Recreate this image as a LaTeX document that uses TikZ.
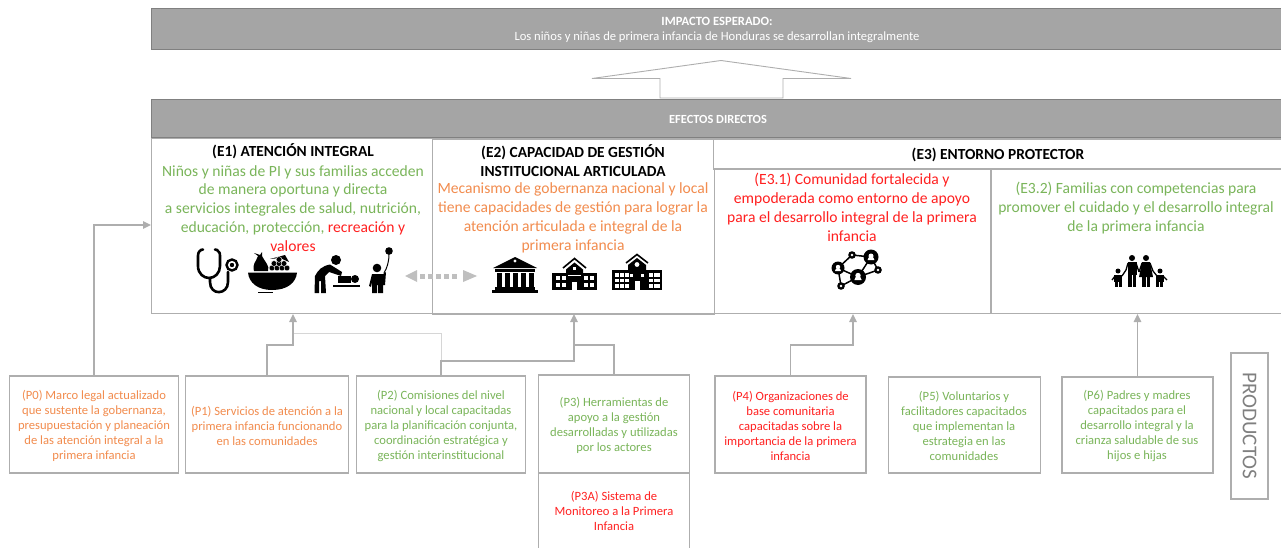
\documentclass[tikz,border=0pt]{standalone}
\usepackage{fontspec}
\setmainfont{Carlito}
\usetikzlibrary{arrows.meta}
\definecolor{bargray}{HTML}{A5A5A5}
\definecolor{linegray}{HTML}{AEAEAE}
\definecolor{ogreen}{HTML}{7AB55A}
\definecolor{oorange}{HTML}{F28C4E}
\definecolor{ored}{HTML}{FF2020}
\tikzset{
 x=1pt,y=-1pt,
 every node/.style={outer sep=0pt},
 barbox/.style={draw=black!50,fill=bargray,line width=1pt,anchor=north west,inner sep=0pt,text=white,align=center},
 effbox/.style={draw=linegray,fill=white,line width=1.2pt,anchor=north west,inner sep=0pt},
 prodbox/.style={draw=linegray,fill=white,line width=1.4pt,anchor=north west,inner sep=0pt},
 etxt/.style={font=\fontsize{15.6}{18.9}\selectfont,align=center,anchor=center,inner sep=0pt},
 ehead/.style={font=\fontsize{15.4}{18.9}\selectfont\bfseries,align=center,anchor=center,inner sep=0pt},
 ptxt/.style={font=\fontsize{12.6}{15}\selectfont,align=center,anchor=center,inner sep=0pt},
 conn/.style={draw=linegray,line width=1.3pt},
 connar/.style={conn,-{Triangle[length=8pt,width=7.5pt]}},
 icl/.style={draw=black,line width=2.6pt,fill=none,line cap=round,line join=round},
}
\begin{document}
\begin{tikzpicture}
\useasboundingbox (0,0) rectangle (1281,548);
% top bars
\node[barbox,minimum width=1132pt,minimum height=41pt] (imp) at (151,9) {};
\node[font=\fontsize{12.6}{15}\selectfont,text=white,align=center,inner sep=0pt] (impt) at (717,30) {\textbf{IMPACTO ESPERADO:}\\Los niños y niñas de primera infancia de Honduras se desarrollan integralmente};
\node[barbox,minimum width=1132pt,minimum height=38pt] (efe) at (151,100) {};
\node[font=\fontsize{12.4}{13}\selectfont\bfseries,text=white,inner sep=0pt] (efet) at (718,119) {EFECTOS DIRECTOS};
% big arrow
\draw[draw=linegray,fill=white,line width=.9pt,line join=miter] (660,98) -- (660,78.5) -- (592,78.5) -- (721,60.5) -- (851,78.5) -- (783,78.5) -- (783,98) -- cycle;
% effect boxes
\node[effbox,minimum width=281pt,minimum height=175pt] (e1) at (151.5,138.5) {};
\node[effbox,minimum width=282pt,minimum height=175pt] (e2) at (432.5,139) {};
\node[effbox,minimum width=568pt,minimum height=30pt] (e3) at (713.5,139) {};
\node[effbox,minimum width=277pt,minimum height=144pt] (e31) at (714.5,169.5) {};
\node[effbox,minimum width=291pt,minimum height=144pt] (e32) at (991,169.5) {};
% texts
\node[ehead] (e1h) at (293,151) {(E1) ATENCIÓN INTEGRAL};
\node[etxt,text=ogreen] (e1t) at (293,208.5) {Niños y niñas de PI y sus familias acceden\\de manera oportuna y directa\\a servicios integrales de salud, nutrición,\\educación, protección, \textcolor{ored}{recreación y}\\\textcolor{ored}{valores}};
\node[ehead] (e2h) at (573,161) {(E2) CAPACIDAD DE GESTIÓN\\INSTITUCIONAL ARTICULADA};
\node[etxt,text=oorange] (e2t) at (573,217.5) {Mecanismo de gobernanza nacional y local\\tiene capacidades de gestión para lograr la\\atención articulada e integral de la\\primera infancia};
\node[ehead] (e3h) at (998,155) {(E3) ENTORNO PROTECTOR};
\node[etxt,text=ored] (e31t) at (852,207.5) {(E3.1) Comunidad fortalecida y\\empoderada como entorno de apoyo\\para el desarrollo integral de la primera\\infancia};
\node[etxt,text=ogreen] (e32t) at (1136,208) {(E3.2) Familias con competencias para\\promover el cuidado y el desarrollo integral\\de la primera infancia};
% product boxes
\node[prodbox,minimum width=169pt,minimum height=97pt] (p0) at (9.5,376) {};
\node[prodbox,minimum width=163pt,minimum height=97pt] (p1) at (185.5,376) {};
\node[prodbox,minimum width=169pt,minimum height=97pt] (p2) at (356.5,376) {};
\node[prodbox,minimum width=151pt,minimum height=98pt] (p3) at (538.5,375) {};
\draw[draw=linegray,line width=1.3pt] (538.5,473) -- (538.5,548) (689.5,473) -- (689.5,548);
\node[prodbox,minimum width=151pt,minimum height=97pt] (p4) at (715,376) {};
\node[prodbox,minimum width=152pt,minimum height=96pt] (p5) at (888.5,377) {};
\node[prodbox,minimum width=151pt,minimum height=96pt] (p6) at (1062,377) {};
\node[prodbox,minimum width=37pt,minimum height=146pt] (prod) at (1231,353) {};
\node[ptxt,text=oorange] at (94,425.5) {(P0) Marco legal actualizado\\que sustente la gobernanza,\\presupuestación y planeación\\de las atención integral a la\\primera infancia};
\node[ptxt,text=oorange] at (267,425.5) {(P1) Servicios de atención a la\\primera infancia funcionando\\en las comunidades};
\node[ptxt,text=ogreen] at (441,425.5) {(P2) Comisiones del nivel\\nacional y local capacitadas\\para la planificación conjunta,\\coordinación estratégica y\\gestión interinstitucional};
\node[ptxt,text=ogreen] at (614,425) {(P3) Herramientas de\\apoyo a la gestión\\desarrolladas y utilizadas\\por los actores};
\node[ptxt,text=ored] at (614,511) {(P3A) Sistema de\\Monitoreo a la Primera\\Infancia};
\node[ptxt,text=ored] at (790.5,426) {(P4) Organizaciones de\\base comunitaria\\capacitadas sobre la\\importancia de la primera\\infancia};
\node[ptxt,text=ogreen] at (964,426) {(P5) Voluntarios y\\facilitadores capacitados\\que implementan la\\estrategia en las\\comunidades};
\node[ptxt,text=ogreen] at (1137,426) {(P6) Padres y madres\\capacitados para el\\desarrollo integral y la\\crianza saludable de sus\\hijos e hijas};
\node[rotate=-90,font=\fontsize{21}{22}\selectfont,text=gray,inner sep=0pt] at (1249.5,426) {PRODUCTOS};
% connectors
\coordinate (e1a) at (293,314);
\coordinate (e2a) at (574,314);
\coordinate (e0a) at (151,225);
\coordinate (e31a) at (853,314);
\draw[connar] (p0.north) |- (e0a);
\draw[draw=linegray!50,line width=.8pt] (293,333.5) -| (p2.north);
\draw[connar] (p1.north) |- (293,345) -- (e1a);
\draw[connar] (p2.north) |- (574,361) -- (e2a);
\draw[conn] (574,345) -| (p3.north);
\draw[connar] (p4.north) |- (853,345) -- (e31a);
\draw[connar] (p6.north) -- (p6.north |- e31a);
% double dotted arrow
\coordinate (dl) at (405,276);
\coordinate (dr) at (477,276);
\fill[black!25] (dl) -- (417,270) -- (417,282) -- cycle;
\fill[black!25] (dr) -- (463,270) -- (463,282) -- cycle;
\foreach \x in {420,428,436,444,452} \fill[black!25] (\x,273.5) rectangle ++(5,5);
% icon: stethoscope
\draw[icl] (203,249.5) -- (201,250) .. controls (198,252) and (198,254) .. (198,258) -- (198,266) .. controls (198,274) and (204,278) .. (209,278) .. controls (215,278) and (220,273) .. (220,266) -- (220,258) .. controls (220,254) and (220,251) .. (217,250) -- (215,249.5);
\draw[icl] (210,278) -- (210,282) .. controls (210,296) and (228,295) .. (228,282) -- (228,272);
\draw[draw=black,line width=2.4pt,fill=white] (232,265) circle (5.5);
\fill (232,265) circle (2.2);
% icon: fruit bowl
\fill (248,272.5) -- (297,272.5) .. controls (296,283) and (287,290) .. (272,290) .. controls (258,290) and (249,283) .. (248,272.5) -- cycle;
\fill (258,291.5) rectangle (273,293);
\fill (254,271) .. controls (252,264) and (256,262) .. (258,256) -- (254,253) -- (260,255) -- (262,252) -- (262,256) .. controls (265,262) and (270,266) .. (268,271) -- cycle;
\fill (270,259) -- (285,255) -- (289,262) -- (280,258) -- cycle;
\foreach \p in {(272,268),(277,268),(282,268),(287,268),(274,263.5),(279,263.5),(284,263.5),(279,259.5)} {\filldraw[fill=black,draw=white,line width=.4pt] \p circle (2.9);}
% icon: diaper change
\fill (336,260) circle (5);
\fill (330,264.5) .. controls (322,266) and (318,270) .. (315,276) -- (314.5,293) -- (319,293) -- (319,281) -- (321,281) -- (321,293) -- (326,293) -- (325,276) -- (329,272) -- (341,276) -- (342,272) -- cycle;
\fill (355,279) circle (4);
\fill (338,276) -- (351,276) -- (351,283) -- (338,283) -- cycle;
\fill (333,285) rectangle (360,286.5);
% icon: child with balloon
\fill (389,251) circle (3.8);
\draw[line width=1pt] (389,254) .. controls (389,262) and (387,268) .. (384,273);
\fill (377,268) circle (4.3);
\fill (369,286) -- (372,274) -- (383,274) -- (386,272) -- (385,285) -- (383,285) -- (383,293) -- (378,293) -- (378,285) -- (377,285) -- (377,293) -- (372,293) -- (372,282) -- (371,287) -- cycle;
% icon: bank
\fill (515,257) -- (493,268) -- (537,268) -- cycle;
\fill[white] (515,261) circle (1.6);
\fill (495,269) rectangle (535,271.5);
\foreach \x in {497,505,513,521,529} \fill (\x,272.5) rectangle ++(4.5,14);
\fill (495,287) rectangle (535,289.5);
\fill (492,290) rectangle (538,293);
% icon: school
\draw[line width=1.6pt,line join=miter] (563,268) -- (574.5,258.5) -- (586,268);
\fill (574.5,262.5) -- (566,269.5) -- (566,273) -- (583,273) -- (583,269.5) -- cycle;
\fill (552,272.5) rectangle (597,290);
\foreach \x in {555.5,561.5,583.5,589.5} \foreach \y in {275.5,282.5} \fill[white] (\x,\y) rectangle ++(4.5,4.5);
\fill[white] (572,282) rectangle (577,290);
\fill[white] (573,267) rectangle (576,270);
\fill[white] (568,275) rectangle (581,276);
% icon: hospital
\draw[line width=1.6pt,line join=miter] (626,263) -- (637,254.5) -- (648,263);
\fill (637,258) -- (628,265) -- (628,271) -- (646,271) -- (646,265) -- cycle;
\fill (612,270) rectangle (662,290);
\foreach \x in {615,620,625,649,654} \foreach \y in {273,278.5,284} \fill[white] (\x,\y) rectangle ++(3.5,3.5);
\foreach \x in {658.2} \foreach \y in {273,278.5,284} \fill[white] (\x,\y) rectangle ++(2,3.5);
\fill[white] (634.5,281) rectangle (640,290);
\fill[white] (637,264.5) circle (2.4);
\foreach \x in {630,641} \fill[white] (\x,273.5) rectangle ++(3,3);
% icon: network
\draw[line width=1.5pt] (838,268) -- (852,255) -- (871,257) -- (878,270) -- (858,277) -- (871,257) (858,277) -- (838,268) (838,268) -- (841,286) -- (858,277);
\foreach \p/\r in {(838,268)/6.5,(871,257)/7.5,(858,277)/8,(852,255)/3.8,(878,270)/3.8,(841,286)/3.8}{\fill \p circle (\r);}
\foreach \p/\r in {(838,267)/2.2,(871,256)/2.5,(858,275.5)/2.7,(852,255)/1.4,(878,270)/1.4,(841,286)/1.4}{\fill[white] \p circle (\r);}
\foreach \p/\r in {(838,271)/3,(871,260)/3.4,(858,280)/3.6}{\fill[white] \p ++(-\r,0) arc (180:360:\r) -- cycle;}
% icon: family
\fill (1118,271) circle (2.5);
\fill (1160,271) circle (2.5);
\fill (1132,258) circle (3);
\fill (1146,258) circle (3);
\fill (1114,275) rectangle (1122,281.5);\fill (1115,281) rectangle (1118,287);\fill (1118.8,281) rectangle (1121.8,287);
\fill (1156,275) rectangle (1164,281.5);\fill (1156.3,281) rectangle (1159.3,287);\fill (1160.2,281) rectangle (1163.2,287);
\fill (1127.5,262) rectangle (1136.5,275);\fill (1128,275) rectangle (1131.5,286.5);\fill (1132.5,275) rectangle (1136,286.5);
\fill (1142,262) -- (1150,262) -- (1153,277) -- (1139,277) -- cycle;\fill (1142.3,277) rectangle (1145.5,286.5);\fill (1146.5,277) rectangle (1149.7,286.5);
\draw[line width=1.3pt] (1112,280) -- (1115,276) (1122,276) -- (1126,270) -- (1128,263) (1136,263) -- (1139,272) (1142,263) -- (1139,272) (1150,263) -- (1153,271) -- (1157,276) (1163,276) -- (1167,280);
\end{tikzpicture}
\end{document}
